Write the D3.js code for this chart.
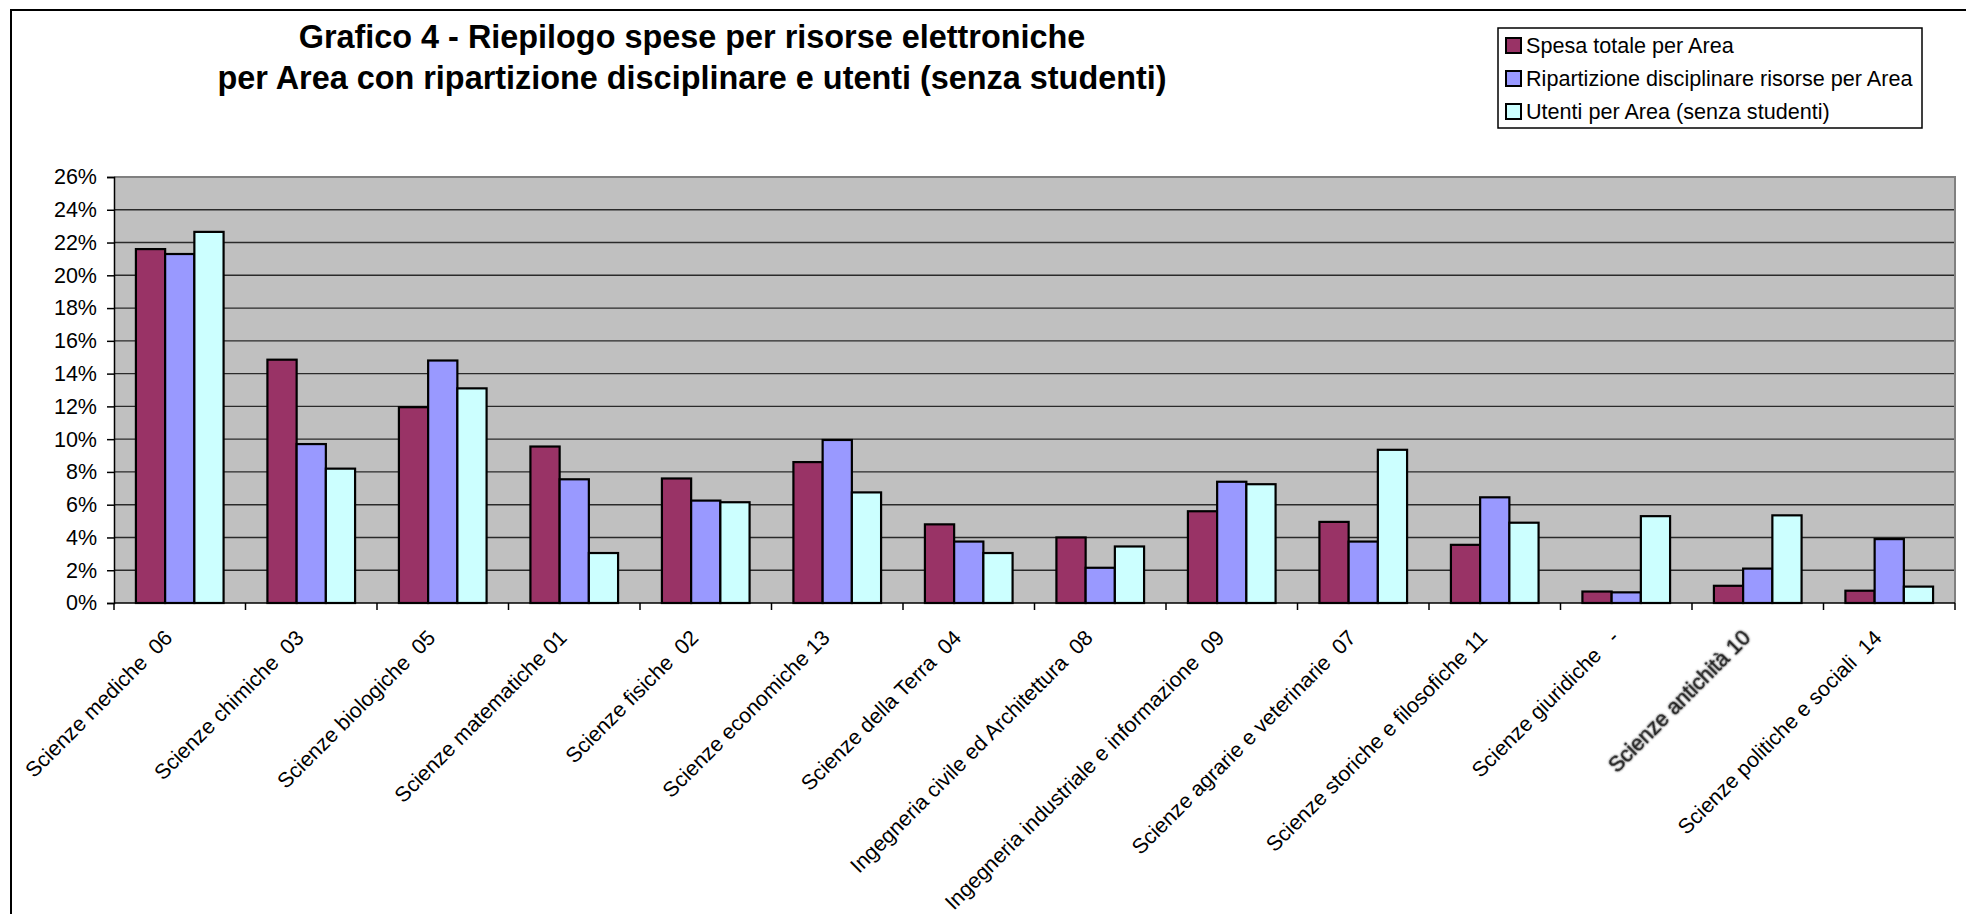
<!DOCTYPE html>
<html>
<head>
<meta charset="utf-8">
<script src="https://cdn.jsdelivr.net/npm/d3@7"></script>
<style>
  html, body { margin: 0; padding: 0; background: #fff; }
  svg { display: block; }
  text { font-family: "Liberation Sans", Arial, sans-serif; white-space: pre; }
</style>
</head>
<body>
<svg id="chart" width="1966" height="914"></svg>
<script>
// Areas (x categories)
const categories = [
  "Scienze mediche  06",
  "Scienze chimiche  03",
  "Scienze biologiche  05",
  "Scienze matematiche 01",
  "Scienze fisiche  02",
  "Scienze economiche 13",
  "Scienze della Terra  04",
  "Ingegneria civile ed Architettura  08",
  "Ingegneria industriale e informazione  09",
  "Scienze agrarie e veterinarie  07",
  "Scienze storiche e filosofiche 11",
  "Scienze giuridiche   -",
  "Scienze antichità 10",
  "Scienze politiche e sociali  14"
];

// Series values (percent)
const spesaTotale = [21.6, 14.85, 11.95, 9.55, 7.6, 8.6, 4.8, 4.0, 5.6, 4.95, 3.55, 0.7, 1.05, 0.75];
const ripartizione = [21.3, 9.7, 14.8, 7.55, 6.25, 9.95, 3.75, 2.15, 7.4, 3.75, 6.45, 0.65, 2.1, 3.9];
const utenti = [22.65, 8.2, 13.1, 3.05, 6.15, 6.75, 3.05, 3.45, 7.25, 9.35, 4.9, 5.3, 5.35, 1.0];

const seriesNames = [
  "Spesa totale per Area",
  "Ripartizione disciplinare risorse per Area",
  "Utenti per Area (senza studenti)"
];
const seriesColors = ["#993366", "#9999FF", "#CCFFFF"];
const seriesValues = [spesaTotale, ripartizione, utenti];

const yTicks = [0, 2, 4, 6, 8, 10, 12, 14, 16, 18, 20, 22, 24, 26];

const titleLines = [
  "Grafico 4 - Riepilogo spese per risorse elettroniche",
  "per Area con ripartizione disciplinare e utenti (senza studenti)"
];

const svg = d3.select("#chart");

// Chart frame
svg.append("rect")
  .attr("x", 11).attr("y", 10)
  .attr("width", 2100).attr("height", 1100)
  .attr("fill", "#fff").attr("stroke", "#000").attr("stroke-width", 2);

const plot = { left: 114, right: 1955, top: 177, bottom: 603 };

const x0 = d3.scaleBand().domain(categories).range([plot.left, plot.right]).padding(0);
const bw = x0.bandwidth();
const x1 = d3.scaleBand().domain(d3.range(3)).range([bw / 6, bw * 5 / 6]).padding(0);
const y = d3.scaleLinear().domain([0, 26]).range([plot.bottom, plot.top]);

// Plot background
svg.append("rect")
  .attr("x", plot.left).attr("y", plot.top)
  .attr("width", plot.right - plot.left).attr("height", plot.bottom - plot.top)
  .attr("fill", "#C0C0C0");

// Gridlines
svg.append("g")
  .selectAll("line")
  .data(yTicks.filter(t => t > 0 && t < 26))
  .join("line")
  .attr("x1", plot.left).attr("x2", plot.right)
  .attr("y1", d => y(d)).attr("y2", d => y(d))
  .attr("stroke", "#2a2a2a").attr("stroke-width", 1.4);

// Plot border (top / right)
svg.append("path")
  .attr("d", `M${plot.left},${plot.top}H${plot.right}V${plot.bottom}`)
  .attr("fill", "none").attr("stroke", "#808080").attr("stroke-width", 2);

// Bars
const rows = categories.map((c, i) => ({ cat: c, vals: seriesValues.map(s => s[i]) }));
const groups = svg.append("g").selectAll("g")
  .data(rows)
  .join("g")
  .attr("transform", d => `translate(${x0(d.cat)},0)`);

groups.selectAll("rect")
  .data(d => d.vals.map((v, k) => ({ v, k })))
  .join("rect")
  .attr("x", d => x1(d.k))
  .attr("width", x1.bandwidth())
  .attr("y", d => y(d.v))
  .attr("height", d => y(0) - y(d.v))
  .attr("fill", d => seriesColors[d.k])
  .attr("stroke", "#000")
  .attr("stroke-width", 2.2);

// Y axis
const yAxis = d3.axisLeft(y)
  .tickValues(yTicks)
  .tickFormat(d => d + "%")
  .tickSize(7)
  .tickPadding(10);
const gy = svg.append("g")
  .attr("transform", `translate(${plot.left},0)`)
  .call(yAxis);
gy.select(".domain").attr("stroke", "#000").attr("stroke-width", 1.5);
gy.selectAll(".tick line").attr("stroke", "#000").attr("stroke-width", 1.5);
gy.selectAll(".tick text")
  .attr("font-size", 21.5)
  .attr("fill", "#000")
  .attr("font-family", "Liberation Sans, Arial, sans-serif");

// X axis line and category ticks
const gx = svg.append("g");
gx.append("line")
  .attr("x1", plot.left).attr("x2", plot.right)
  .attr("y1", plot.bottom).attr("y2", plot.bottom)
  .attr("stroke", "#000").attr("stroke-width", 1.5);
const bounds = categories.map(c => x0(c)).concat([plot.right]);
gx.selectAll("line.tick")
  .data(bounds)
  .join("line")
  .attr("class", "tick")
  .attr("x1", d => d).attr("x2", d => d)
  .attr("y1", plot.bottom).attr("y2", plot.bottom + 7)
  .attr("stroke", "#000").attr("stroke-width", 1.5);

// Faint halo used by one label
const defs = svg.append("defs");
const f = defs.append("filter").attr("id", "soft").attr("x", "-10%").attr("y", "-10%").attr("width", "120%").attr("height", "120%");
f.append("feGaussianBlur").attr("in", "SourceAlpha").attr("stdDeviation", 0.8).attr("result", "b");
f.append("feComponentTransfer").attr("in", "b").attr("result", "bf")
  .append("feFuncA").attr("type", "linear").attr("slope", 0.6);
const fm = f.append("feMerge");
fm.append("feMergeNode").attr("in", "bf");
fm.append("feMergeNode").attr("in", "SourceGraphic");

// Category labels, rotated
gx.selectAll("text")
  .data(categories)
  .join("text")
  .attr("transform", d => `translate(${x0(d) + bw / 2 - 6},${plot.bottom + 36}) rotate(-45)`)
  .attr("text-anchor", "end")
  .attr("font-size", 21.3)
  .attr("fill", d => d.startsWith("Scienze antich") ? "#1a1a1a" : "#000")
  .attr("stroke", d => d.startsWith("Scienze antich") ? "#444" : null)
  .attr("stroke-width", d => d.startsWith("Scienze antich") ? 0.5 : null)
  .attr("filter", d => d.startsWith("Scienze antich") ? "url(#soft)" : null)
  .attr("xml:space", "preserve")
  .text(d => d);

// Title
svg.append("g")
  .selectAll("text")
  .data(titleLines)
  .join("text")
  .attr("x", 692)
  .attr("y", (d, i) => 48 + i * 41)
  .attr("text-anchor", "middle")
  .attr("font-size", 32.4)
  .attr("font-weight", "bold")
  .attr("fill", "#000")
  .text(d => d);

// Legend
const lg = svg.append("g");
lg.append("rect")
  .attr("x", 1498).attr("y", 28)
  .attr("width", 424).attr("height", 100)
  .attr("fill", "#fff").attr("stroke", "#000").attr("stroke-width", 1.5);
const items = lg.selectAll("g")
  .data(seriesNames)
  .join("g")
  .attr("transform", (d, i) => `translate(1506,${38 + i * 33})`);
items.append("rect")
  .attr("x", 0).attr("y", 0)
  .attr("width", 15).attr("height", 15)
  .attr("fill", (d, i) => seriesColors[i])
  .attr("stroke", "#000").attr("stroke-width", 2);
items.append("text")
  .attr("x", 20).attr("y", 15)
  .attr("font-size", 21.6)
  .attr("fill", "#000")
  .text(d => d);
</script>
</body>
</html>
